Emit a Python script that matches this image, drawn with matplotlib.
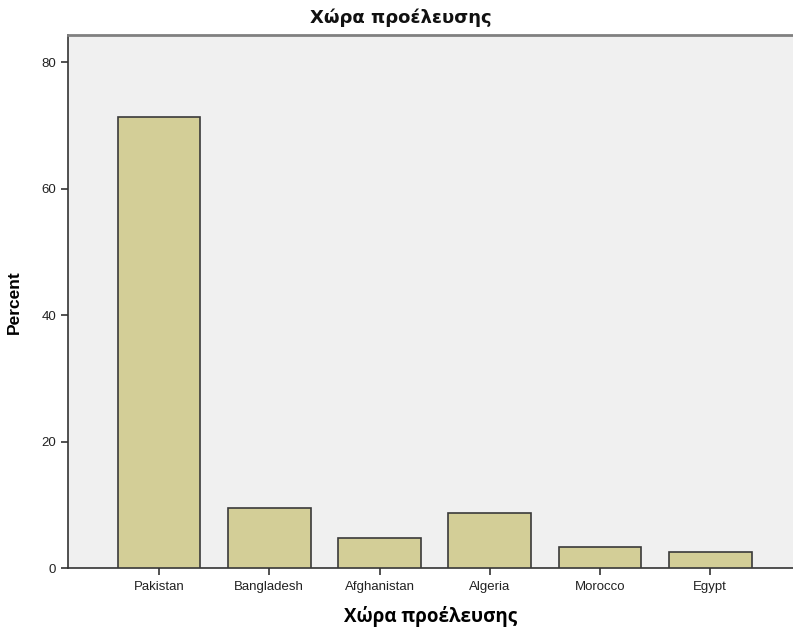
import numpy as np
import matplotlib
matplotlib.use("Agg")
import matplotlib.pyplot as plt

plt.rcParams['font.family'] = ['Liberation Sans', 'DejaVu Sans']

# data
countries = ['Pakistan', 'Bangladesh', 'Afghanistan', 'Algeria', 'Morocco', 'Egypt']
percent = [71.4, 9.5, 4.8, 8.7, 3.3, 2.5]
y_ticks = [0, 20, 40, 60, 80]
title = 'Χώρα προέλευσης'

fig = plt.figure(figsize=(7.93, 6.30), dpi=100)
ax = fig.add_axes([0.0858, 0.0984, 0.9142, 0.8456])
ax.set_facecolor('#f0f0f0')

x = np.arange(len(countries))
ax.bar(x, percent, width=0.75, color='#d3ce97', edgecolor='#3a3a3a', linewidth=1.2, zorder=3)

ax.set_xlim(-0.825, 5.75)
ax.set_ylim(0, 84.3)
ax.set_xticks(x)
ax.set_xticklabels(countries, fontsize=9.5)
ax.set_yticks(y_ticks)
ax.set_yticklabels([str(v) for v in y_ticks], fontsize=9.5)
ax.tick_params(axis='both', direction='out', length=5, width=1.2, color='#333333', labelcolor='#222222')
ax.tick_params(axis='x', pad=4)

ax.spines['right'].set_visible(False)
ax.spines['left'].set_color('#333333')
ax.spines['left'].set_linewidth(1.2)
ax.spines['bottom'].set_color('#333333')
ax.spines['bottom'].set_linewidth(1.2)
ax.spines['top'].set_color('#808080')
ax.spines['top'].set_linewidth(2)

# title sits centred on the whole chart, not the axes
fig.text(401 / 793, 1 - 18 / 630, title, ha='center', va='center',
         fontsize=13, fontweight='bold', family='DejaVu Sans', color='#111111')
ax.xaxis.set_label_coords(435 / 793 / 0.9142 - 0.0858 / 0.9142, -0.071)
ax.set_xlabel(title, fontsize=13.5, fontweight='bold', family='Open Sans', va='top')
ax.set_ylabel('Percent', fontsize=12.5, fontweight='bold', labelpad=14)

fig.savefig('out.png', dpi=100)
